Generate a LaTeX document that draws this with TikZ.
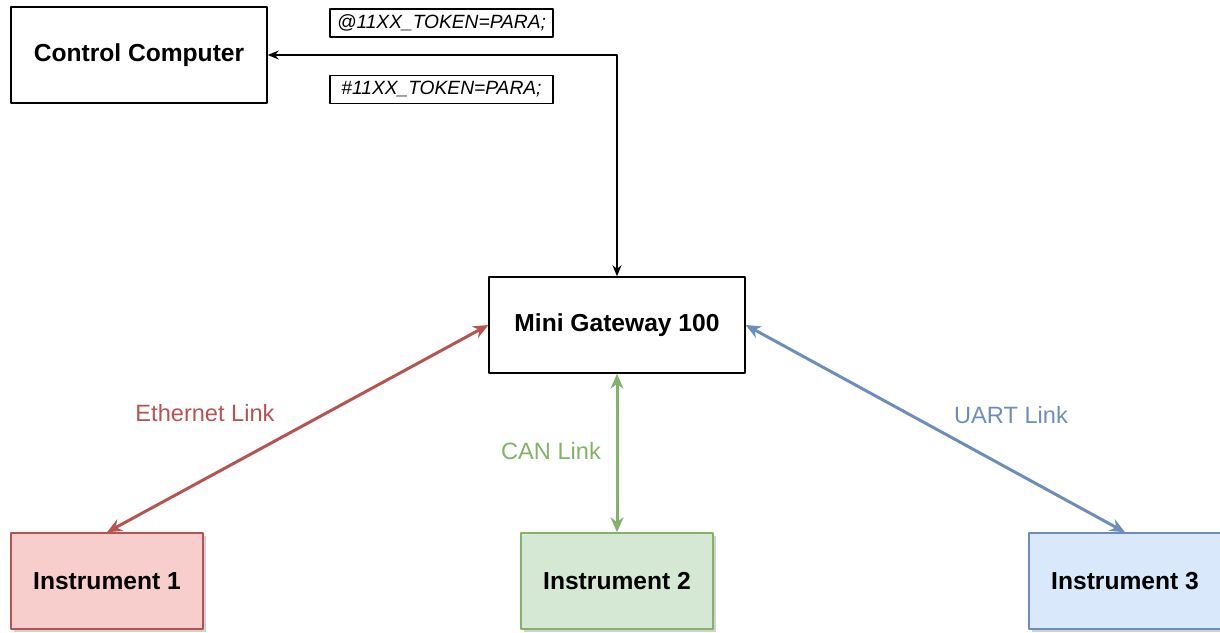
\documentclass[tikz,border=0pt]{standalone}
\usepackage{fontspec}
\setmainfont{Liberation Sans}
\usetikzlibrary{arrows.meta,shadows}

\definecolor{rossoL}{HTML}{B85450}
\definecolor{rossoF}{HTML}{F8CECC}
\definecolor{verdeL}{HTML}{82B366}
\definecolor{verdeF}{HTML}{D5E8D4}
\definecolor{bluL}{HTML}{6C8EBF}
\definecolor{bluF}{HTML}{DAE8FC}

\begin{document}
\begin{tikzpicture}[x=0.5pt,y=-0.5pt,line join=round,
    blocco/.style={draw=black,line width=0.75pt,fill=white,inner sep=0pt,
      minimum width=128pt,minimum height=48pt,
      font=\fontsize{12.3}{14}\selectfont\bfseries},
    strum/.style={blocco,minimum width=96pt,
      drop shadow={shadow xshift=1.5pt,shadow yshift=-1.5pt,opacity=0.3,fill=black!60}},
    msg/.style={draw=black,line width=0.6pt,inner sep=0pt,
      minimum width=111.5pt,minimum height=14pt,
      font=\fontsize{9.6}{11}\selectfont\itshape},
    segnale/.style={line width=0.75pt,{Stealth[length=5.5pt,width=4.5pt]}-{Stealth[length=5.5pt,width=4.5pt]}},
    link/.style={line width=1.5pt,{Stealth[length=7.5pt,width=6.5pt]}-{Stealth[length=7.5pt,width=6.5pt]}},
    etich/.style={font=\fontsize{11.8}{14}\selectfont}]

  \useasboundingbox (0,0) rectangle (1220,632);

  % ---------------- computer di controllo e messaggi ----------------
  \node[blocco] (cc) at (139,55) {Control Computer};
  \node[msg] (req) at (441.5,23)   {@11XX\_TOKEN=PARA;};
  \node[msg] (ans) at (441.5,89.5) {\#11XX\_TOKEN=PARA;};

  % ---------------- gateway ----------------
  \node[blocco] (gw) at (617,325) {Mini Gateway 100};

  \draw[segnale] (cc.east) -- (gw.north |- cc.east) -- (gw.north);

  % ---------------- strumenti ----------------
  \node[strum,draw=rossoL,fill=rossoF] (s1) at (107,581)  {Instrument 1};
  \node[strum,draw=verdeL,fill=verdeF] (s2) at (617,581)  {Instrument 2};
  \node[strum,draw=bluL,fill=bluF]     (s3) at (1125,581) {Instrument 3};

  \draw[link,rossoL] (gw.west)  -- (s1.north);
  \draw[link,verdeL] (gw.south) -- (s2.north);
  \draw[link,bluL]   (gw.east)  -- (s3.north);

  \node[etich,text=rossoL] (eth)  at (205,413)  {Ethernet Link};
  \node[etich,text=verdeL] (can)  at (551,451)  {CAN Link};
  \node[etich,text=bluL]   (uart) at (1011,415) {UART Link};

\end{tikzpicture}
\end{document}
